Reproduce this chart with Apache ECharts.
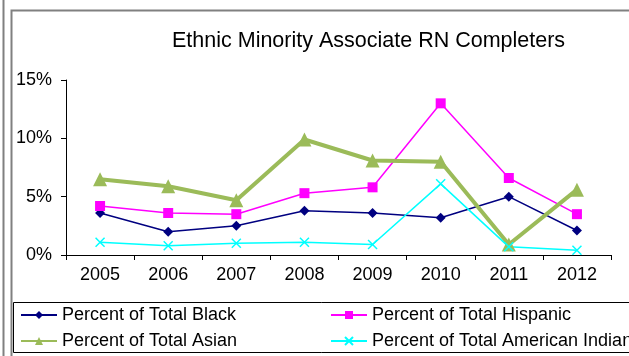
<!DOCTYPE html>
<html>
<head>
<meta charset="utf-8">
<script src="https://cdn.jsdelivr.net/npm/echarts@6/dist/echarts.min.js"></script>
<style>
  html, body { margin: 0; padding: 0; background: #fff; }
  #main { width: 629px; height: 356px; }
</style>
</head>
<body>
<div id="main"></div>
<script>
  var years = ['2005', '2006', '2007', '2008', '2009', '2010', '2011', '2012'];
  var black = [3.6, 2.0, 2.5, 3.8, 3.6, 3.2, 5.0, 2.1];
  var hispanic = [4.2, 3.6, 3.5, 5.3, 5.8, 13.0, 6.6, 3.5];
  var asian = [6.5, 5.9, 4.7, 9.9, 8.1, 8.0, 0.9, 5.6];
  var amIndian = [1.1, 0.8, 1.0, 1.1, 0.9, 6.1, 0.7, 0.4];
  var yTicks = [0, 5, 10, 15];

  var font = 'Liberation Sans, Arial, sans-serif';
  var crossPath = 'path://M0,0L10,10M10,0L0,10';

  var legendText = { fontFamily: font, fontSize: 18, color: '#000' };

  var myChart = echarts.init(document.getElementById('main'));
  myChart.setOption({
    animation: false,
    backgroundColor: '#fff',
    title: {
      text: 'Ethnic Minority Associate RN Completers',
      left: 172,
      top: 30,
      padding: 0,
      textStyle: { fontFamily: font, fontSize: 21.5, fontWeight: 'normal', color: '#000' }
    },
    legend: [
      {
        orient: 'vertical',
        left: 20,
        top: 306,
        padding: 0,
        height: 50,
        itemWidth: 36,
        itemHeight: 10,
        itemGap: 8,
        textStyle: legendText,
        data: ['Percent of Total Black', 'Percent of Total Asian']
      },
      {
        orient: 'vertical',
        left: 330,
        top: 306,
        padding: 0,
        height: 50,
        itemWidth: 36,
        itemHeight: 10,
        itemGap: 8,
        textStyle: legendText,
        data: ['Percent of Total Hispanic', 'Percent of Total American Indian']
      }
    ],
    graphic: [
      { type: 'line', shape: { x1: 3.5, y1: 0, x2: 3.5, y2: 356 }, style: { stroke: '#808080', lineWidth: 2 } },
      { type: 'polyline', shape: { points: [[11.5, 356], [11.5, 10.5], [629, 10.5]] }, style: { stroke: '#808080', lineWidth: 2, fill: null } },
      { type: 'rect', shape: { x: 13.5, y: 302.5, width: 620, height: 50 }, style: { stroke: '#000', lineWidth: 1, fill: null } }
    ],
    grid: { left: 66, right: 18, top: 80, bottom: 101 },
    xAxis: {
      type: 'category',
      data: years,
      boundaryGap: true,
      axisLine: { lineStyle: { color: '#000', width: 1 } },
      axisTick: { show: true, length: 5, inside: false, lineStyle: { color: '#000' } },
      axisLabel: { fontFamily: font, fontSize: 18, color: '#000', margin: 11 }
    },
    yAxis: {
      type: 'value',
      min: yTicks[0],
      max: yTicks[yTicks.length - 1],
      interval: 5,
      splitLine: { show: false },
      axisLine: { show: true, lineStyle: { color: '#000', width: 1 } },
      axisTick: { show: true, length: 5, lineStyle: { color: '#000' } },
      axisLabel: { fontFamily: font, fontSize: 18, color: '#000', margin: 14, formatter: '{value}%' }
    },
    series: [
      {
        name: 'Percent of Total Black',
        type: 'line',
        data: black,
        symbol: 'diamond',
        symbolSize: 10,
        color: '#000080',
        lineStyle: { width: 1.5, color: '#000080' },
        itemStyle: { color: '#000080' }
      },
      {
        name: 'Percent of Total Hispanic',
        type: 'line',
        data: hispanic,
        symbol: 'rect',
        symbolSize: 10,
        color: '#FF00FF',
        lineStyle: { width: 1.5, color: '#FF00FF' },
        itemStyle: { color: '#FF00FF' }
      },
      {
        name: 'Percent of Total Asian',
        type: 'line',
        data: asian,
        symbol: 'triangle',
        symbolSize: 14,
        color: '#9BBB59',
        lineStyle: { width: 4, color: '#9BBB59' },
        itemStyle: { color: '#9BBB59' }
      },
      {
        name: 'Percent of Total American Indian',
        type: 'line',
        data: amIndian,
        symbol: crossPath,
        symbolSize: 9,
        color: '#00FFFF',
        lineStyle: { width: 1.5, color: '#00FFFF' },
        itemStyle: { color: '#00FFFF', borderColor: '#00FFFF', borderWidth: 1.5 }
      }
    ]
  });
</script>
</body>
</html>
